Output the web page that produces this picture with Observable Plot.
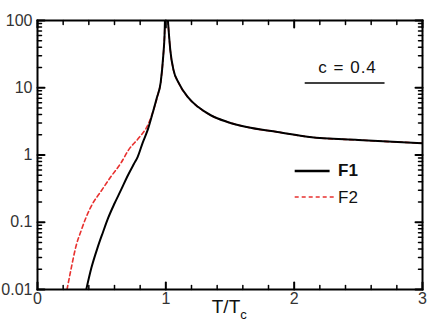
<!DOCTYPE html>
<html>
<head>
<meta charset="utf-8">
<script src="https://cdn.jsdelivr.net/npm/d3@7"></script>
<script src="https://cdn.jsdelivr.net/npm/@observablehq/plot@0.6"></script>
<style>
  html, body { margin: 0; padding: 0; background: #fff; }
  svg { font-family: "Liberation Sans", Arial, Helvetica, sans-serif; }
</style>
</head>
<body>
<div id="chart"></div>
<script>
// ---- data ----
const f1T = [0.38, 0.42, 0.47, 0.51, 0.55, 0.60, 0.65, 0.70, 0.75, 0.78, 0.82, 0.86, 0.90, 0.93, 0.96, 0.98, 0.99, 1.0];
const f1V = [0.01, 0.021, 0.043, 0.071, 0.115, 0.19, 0.30, 0.48, 0.73, 0.93, 1.53, 2.4, 4.4, 7.1, 12, 30, 60, 300];
const f2T = [0.23, 0.26, 0.30, 0.34, 0.38, 0.43, 0.49, 0.57, 0.65, 0.71, 0.79, 0.86, 0.90, 0.94, 0.96, 0.98, 0.99, 1.0];
const f2V = [0.01, 0.0195, 0.044, 0.075, 0.12, 0.19, 0.28, 0.47, 0.76, 1.19, 1.8, 2.8, 4.4, 8.2, 12, 30, 60, 300];
// above Tc both curves coincide
const hiT = [1.0, 1.01, 1.02, 1.035, 1.06, 1.10, 1.17, 1.25, 1.35, 1.48, 1.63, 1.87, 2.12, 2.5, 3.0];
const hiV = [300, 150, 80, 36, 18.3, 11.8, 7.3, 5.2, 3.9, 3.1, 2.6, 2.2, 1.85, 1.67, 1.5];

const xTicks = [0, 1, 2, 3];
const xTickLabels = ["0", "1", "2", "3"];
const yTicks = [0.01, 0.1, 1, 10, 100];
const yTickLabels = ["0.01", "0.1", "1", "10", "100"];
const seriesNames = ["F1", "F2"];
const paramLabel = "c = 0.4";

// ---- build tables ----
const f1 = f1T.map((t, i) => ({T: t, v: f1V[i]})).concat(hiT.map((t, i) => ({T: t, v: hiV[i]})));
const f2 = f2T.map((t, i) => ({T: t, v: f2V[i]})).concat(hiT.map((t, i) => ({T: t, v: hiV[i]})));

const xMinor = d3.range(1, 15).map(i => i * 0.2).filter(v => Math.abs(v - Math.round(v)) > 1e-6);
const yMinor = [];
for (const d of [0.01, 0.1, 1, 10]) for (let k = 2; k <= 9; k++) yMinor.push(d * k);

const tickShape = { draw(context, l) { context.moveTo(0, 0); context.lineTo(0, -l); } };
const tk = (data, ch, anchor, rotate, length, sw) =>
  Plot.vector(data, {[ch]: d => d, frameAnchor: anchor, rotate, length, anchor: "start",
    shape: tickShape, stroke: "black", strokeWidth: sw});

const chart = Plot.plot({
  width: 428,
  height: 329,
  marginLeft: 37,
  marginRight: 6,
  marginTop: 20,
  marginBottom: 40,
  style: {fontSize: "16px", color: "#111", background: "white"},
  x: {domain: [0, 3], axis: null},
  y: {type: "log", domain: [0.01, 100], axis: null},
  marks: [
    Plot.line(f2, {x: "T", y: "v", stroke: "#e8312f", strokeWidth: 1.6, strokeDasharray: "4,3", curve: "monotone-x", clip: true}),
    Plot.line(f1, {x: "T", y: "v", stroke: "black", strokeWidth: 2, curve: "monotone-x", clip: true}),
    // inward ticks on all four sides
    tk(xTicks, "x", "bottom", 0, 7, 2),
    tk(xMinor, "x", "bottom", 0, 4, 1.5),
    tk(xTicks, "x", "top", 180, 7, 2),
    tk(xMinor, "x", "top", 180, 4, 1.5),
    tk(yTicks, "y", "left", 90, 7, 2),
    tk(yMinor, "y", "left", 90, 4, 1.5),
    tk(yTicks, "y", "right", -90, 7, 2),
    tk(yMinor, "y", "right", -90, 4, 1.5),
    Plot.frame({stroke: "black", strokeWidth: 2}),
    // tick labels
    Plot.text(xTicks, {x: d => d, text: (d, i) => xTickLabels[i], frameAnchor: "bottom", lineAnchor: "top", dy: 3, fontSize: 16, fill: "#333"}),
    Plot.text(yTicks, {y: d => d, text: (d, i) => yTickLabels[i], frameAnchor: "left", textAnchor: "end", dx: -5, fontSize: 16, fill: "#333"}),
    // x-axis title T/T_c
    Plot.text(["T/T"], {x: () => 1.58, frameAnchor: "bottom", textAnchor: "end", lineAnchor: "bottom", dy: 23, fontSize: 19, fill: "#111"}),
    Plot.text(["c"], {x: () => 1.58, frameAnchor: "bottom", textAnchor: "start", lineAnchor: "bottom", dy: 29, fontSize: 13, fill: "#111"}),
    // parameter annotation
    Plot.text([paramLabel], {x: () => 2.416, y: () => 19.7, textAnchor: "middle", fontSize: 17, fill: "#111"}),
    Plot.ruleY([11.8], {x1: 2.086, x2: 2.708, stroke: "black", strokeWidth: 1.5}),
    // legend
    Plot.ruleY([0.578], {x1: 2.008, x2: 2.28, stroke: "black", strokeWidth: 2.5}),
    Plot.ruleY([0.237], {x1: 2.008, x2: 2.32, stroke: "#e8312f", strokeWidth: 1.6, strokeDasharray: "4,3"}),
    Plot.text([seriesNames[0]], {x: () => 2.342, y: () => 0.578, textAnchor: "start", fontSize: 17, fontWeight: "bold", fill: "#111"}),
    Plot.text([seriesNames[1]], {x: () => 2.342, y: () => 0.237, textAnchor: "start", fontSize: 17, fill: "#111"})
  ]
});
// widen spacing of the parameter label as in the reference
for (const t of chart.querySelectorAll("text")) {
  if (t.textContent === paramLabel) t.style.letterSpacing = "1px";
}
document.getElementById("chart").appendChild(chart);
</script>
</body>
</html>
